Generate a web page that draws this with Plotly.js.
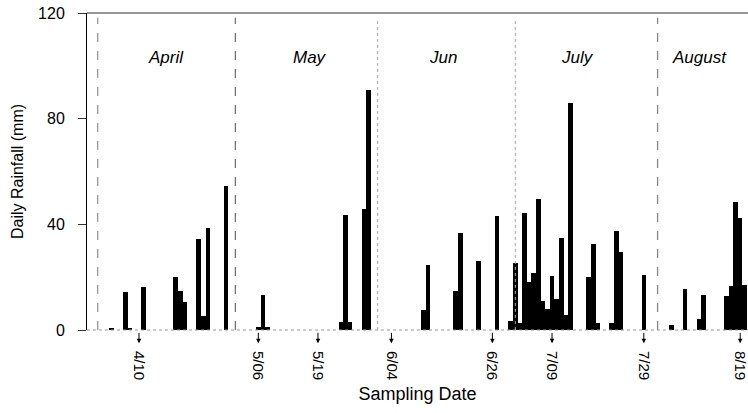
<!DOCTYPE html>
<html>
<head>
<meta charset="utf-8">
<script src="https://cdn.plot.ly/plotly-3.0.1.min.js"></script>
<style>html,body{margin:0;padding:0;background:#fff;}#chart{width:748px;height:413px;}</style>
</head>
<body>
<div id="chart"></div>
<script>
// ---- data ----
const rainDates = [
  '2002-04-04','2002-04-07','2002-04-08','2002-04-11','2002-04-18','2002-04-19','2002-04-20',
  '2002-04-23','2002-04-24','2002-04-25','2002-04-29',
  '2002-05-06','2002-05-07','2002-05-08','2002-05-24','2002-05-25','2002-05-26','2002-05-29','2002-05-30',
  '2002-06-11','2002-06-12','2002-06-18','2002-06-19','2002-06-23','2002-06-27','2002-06-30',
  '2002-07-01','2002-07-02','2002-07-03','2002-07-04','2002-07-05','2002-07-06','2002-07-07','2002-07-08',
  '2002-07-09','2002-07-10','2002-07-11','2002-07-12','2002-07-13','2002-07-17','2002-07-18','2002-07-19',
  '2002-07-22','2002-07-23','2002-07-24','2002-07-29',
  '2002-08-04','2002-08-07','2002-08-10','2002-08-11','2002-08-16','2002-08-17','2002-08-18','2002-08-19','2002-08-20'
];
const rainfall = [
  0.7, 14.2, 0.8, 16.4, 19.9, 14.7, 10.7,
  34.3, 5.3, 38.7, 54.7,
  1.2, 13.2, 1.2, 3.0, 43.6, 3.0, 45.7, 90.8,
  7.5, 24.5, 14.8, 36.7, 26.0, 43.0, 3.5,
  25.4, 2.5, 44.4, 18.0, 21.6, 49.7, 11.1, 8.1,
  20.6, 11.6, 35.0, 5.5, 85.8, 20.0, 32.5, 2.5,
  2.5, 37.5, 29.4, 20.8,
  1.8, 15.6, 4.0, 13.1, 12.8, 16.6, 48.3, 42.4, 17.0
];
const sampleDates = ['2002-04-10','2002-05-06','2002-05-19','2002-06-04','2002-06-26','2002-07-09','2002-07-29','2002-08-19'];
const sampleLabels = ['4/10','5/06','5/19','6/04','6/26','7/09','7/29','8/19'];
const monthStarts = ['2002-04-01','2002-05-01','2002-06-01','2002-07-01','2002-08-01'];
const monthNames = ['April','May','Jun','July','August'];
const yTicks = [0, 40, 80, 120];

// ---- layout helpers ----
const DAY = 86400000;
const base = Date.UTC(2002, 3, 1);
function dayToDate(d) {
  return new Date(base + d * DAY).toISOString().replace('T', ' ').replace('Z', '');
}
const monthLabelDays = [14.9, 46.3, 75.2, 104.6, 131.1];
const monthLineStyle = [
  {color: '#999', dash: 'dash', width: 1.3},
  {color: '#777', dash: 'dash', width: 1.3},
  {color: '#aaa', dash: 'dot', width: 1},
  {color: '#aaa', dash: 'dot', width: 1},
  {color: '#888', dash: 'dash', width: 1.3}
];

const trace = {
  type: 'bar',
  x: rainDates,
  y: rainfall,
  width: rainDates.map(() => DAY),
  marker: {color: '#000', line: {width: 0}},
  hoverinfo: 'x+y'
};

const shapes = [
  {type: 'line', xref: 'paper', yref: 'paper', x0: 0, x1: 1, y0: 1, y1: 1, line: {color: '#333', width: 1}},
  {type: 'line', xref: 'paper', yref: 'paper', x0: 0, x1: 1, y0: 0, y1: 0, line: {color: '#999', width: 1, dash: 'dot'}}
];
monthStarts.forEach((m, i) => {
  shapes.push({type: 'line', xref: 'x', yref: 'paper', x0: m, x1: m, y0: 0, y1: 0.985,
    line: monthLineStyle[i]});
});

const annotations = [];
sampleDates.forEach(d => {
  annotations.push({x: d, xref: 'x', y: -0.042, yref: 'paper', text: '', showarrow: true,
    ax: 0, ay: -12, arrowhead: 2, arrowsize: 0.9, arrowwidth: 1, arrowcolor: '#000'});
});
monthNames.forEach((n, i) => {
  annotations.push({x: dayToDate(monthLabelDays[i]), xref: 'x', y: 0.861, yref: 'paper',
    text: n, showarrow: false, xanchor: 'center', yanchor: 'middle',
    font: {size: 17, style: 'italic', color: '#000'}});
});

const layout = {
  width: 748, height: 413,
  margin: {l: 87, r: 0, t: 13, b: 83},
  paper_bgcolor: '#fff', plot_bgcolor: '#fff',
  font: {family: 'Liberation Sans, Arial, sans-serif', color: '#000'},
  showlegend: false,
  bargap: 0,
  xaxis: {
    type: 'date',
    range: [dayToDate(-2.33), dayToDate(141.7)],
    tickmode: 'array', tickvals: sampleDates, ticktext: sampleLabels,
    tickangle: 90, ticks: '', ticklabelstandoff: 20,
    ticklabeloverflow: 'allow',
    tickfont: {size: 15},
    showgrid: false, zeroline: false, showline: false,
    title: {text: 'Sampling Date', font: {size: 18}, standoff: 8}
  },
  yaxis: {
    range: [0, 120],
    tickmode: 'array', tickvals: yTicks,
    ticks: 'outside', ticklen: 8, tickcolor: '#333', tickwidth: 1,
    ticklabelstandoff: 10,
    tickfont: {size: 16},
    showgrid: false, zeroline: false, showline: true, linecolor: '#000', linewidth: 1,
    title: {text: 'Daily Rainfall (mm)', font: {size: 16}, standoff: 10}
  },
  shapes: shapes,
  annotations: annotations
};

Plotly.newPlot('chart', [trace], layout, {staticPlot: true, displayModeBar: false});
</script>
</body>
</html>
